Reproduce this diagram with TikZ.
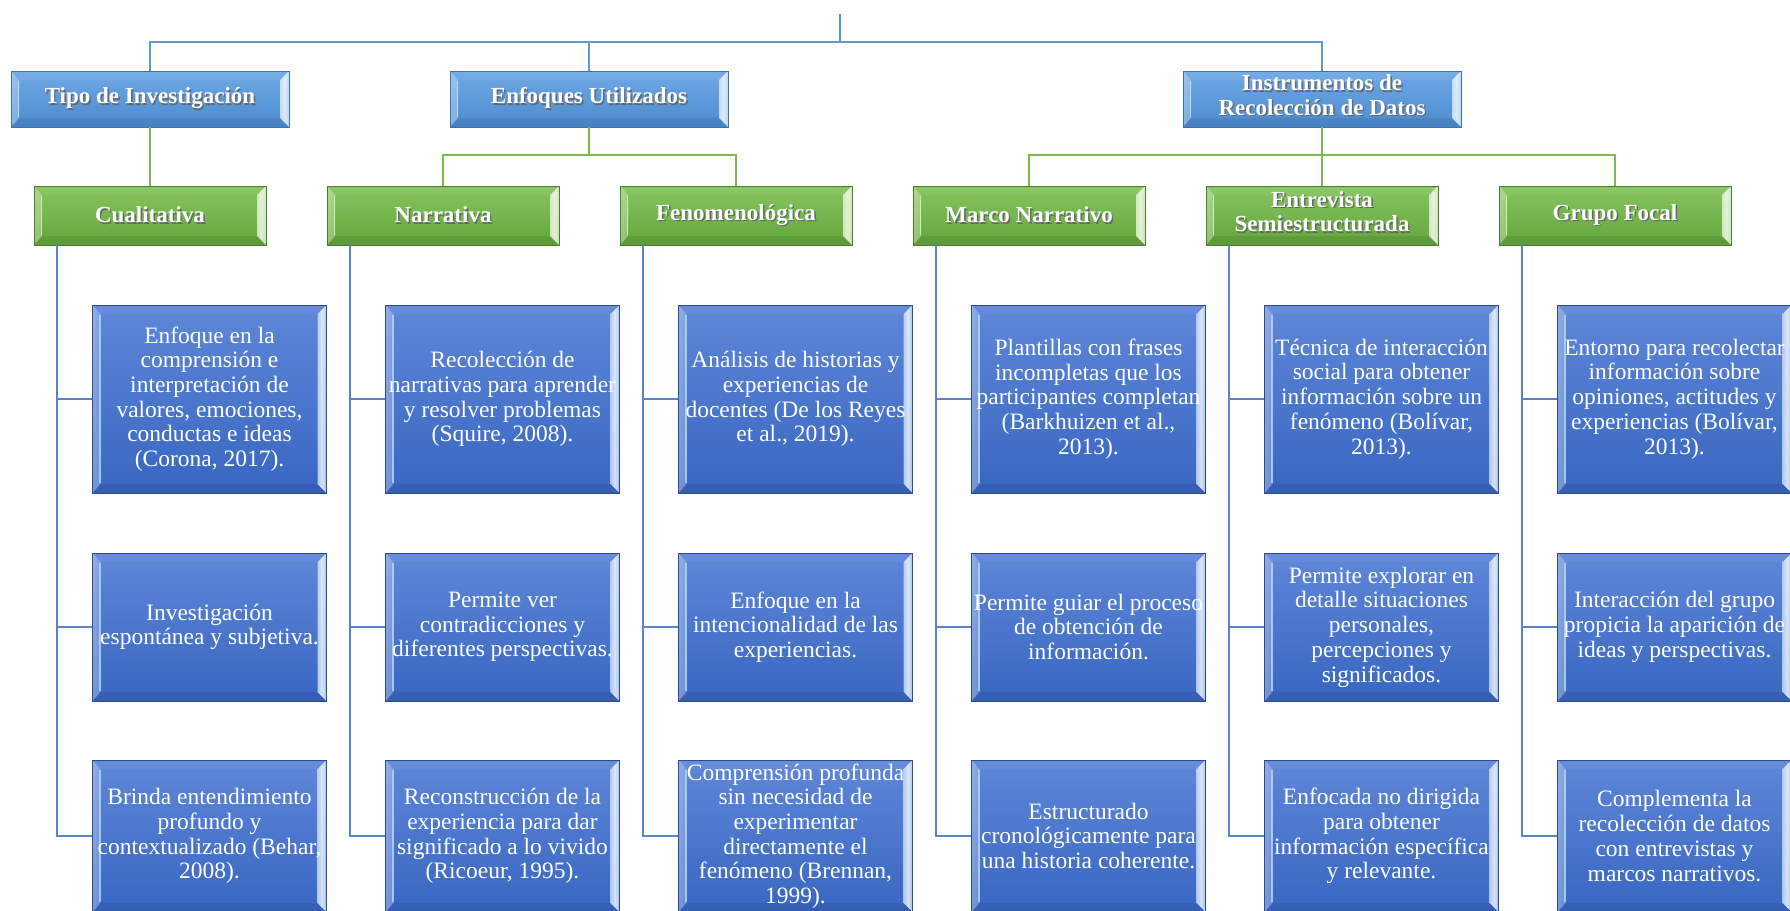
\documentclass[tikz,border=0pt]{standalone}
\usepackage{fontspec}
\setmainfont{Liberation Serif}
\usetikzlibrary{calc}

% palette
\definecolor{hdTop}{HTML}{6FA9E4}
\definecolor{hdBot}{HTML}{4C8BD1}
\definecolor{hdLine}{HTML}{3E73AE}
\definecolor{hdHi}{HTML}{CBE7FB}
\definecolor{gnTop}{HTML}{87C55F}
\definecolor{gnBot}{HTML}{62A63B}
\definecolor{gnLine}{HTML}{4D7E2E}
\definecolor{gnHi}{HTML}{DDF3C8}
\definecolor{dtTop}{HTML}{5F87D9}
\definecolor{dtBot}{HTML}{3866C1}
\definecolor{dtLine}{HTML}{2D4C90}
\definecolor{dtHi}{HTML}{B9D6F6}
\definecolor{busBlue}{HTML}{5B9BD5}
\definecolor{legBlue}{HTML}{5A83CE}
\definecolor{legGreen}{HTML}{7DBB50}

% bevelled faces painted inside a box: #1 highlight colour
\newcommand\bevelfaces[1]{%
  % top rim
  \fill[white, opacity=.05] let \p1=(path picture bounding box.south west),
      \p2=(path picture bounding box.north east) in
      (\x1,\y2) -- (\x2,\y2) -- (\x2-9pt,\y2-9pt) -- (\x1+8pt,\y2-9pt) -- cycle;
  % bottom rim
  \fill[black, opacity=.07] let \p1=(path picture bounding box.south west),
      \p2=(path picture bounding box.north east) in
      (\x1,\y1) -- (\x2,\y1) -- (\x2-9pt,\y1+9pt) -- (\x1+8pt,\y1+9pt) -- cycle;
  % left rim
  \shade[left color=#1!20!white, right color=#1, opacity=.35] let \p1=(path picture bounding box.south west),
      \p2=(path picture bounding box.north east) in
      (\x1,\y1) -- (\x1+8pt,\y1+9pt) -- (\x1+8pt,\y2-9pt) -- (\x1,\y2) -- cycle;
  \draw[#1, line width=1.2pt, opacity=.8] let \p1=(path picture bounding box.south west),
      \p2=(path picture bounding box.north east) in
      (\x1+7.5pt,\y1+10pt) -- (\x1+7.5pt,\y2-10pt);
  % right rim
  \shade[left color=#1!70!white, right color=#1, middle color=white, opacity=.8] let \p1=(path picture bounding box.south west),
      \p2=(path picture bounding box.north east) in
      (\x2,\y1) -- (\x2-9pt,\y1+9pt) -- (\x2-9pt,\y2-9pt) -- (\x2,\y2) -- cycle;
}

% text with a soft drop shadow
\newcommand\shd[1]{\makebox[0pt][l]{\raisebox{-1.4pt}{\hspace{1.4pt}\textcolor{black!60}{#1}}}#1}

\tikzset{
  bevel/.style={path picture={\bevelfaces{#1}}},
  box/.style={rectangle, inner sep=0pt, text=white, align=center},
  head/.style={box, minimum width=278pt, minimum height=56pt,
    top color=hdTop, bottom color=hdBot, draw=hdLine, line width=0.8pt,
    font=\bfseries\fontsize{23}{24.5}\selectfont, bevel=hdHi},
  cat/.style={box, minimum width=232pt, minimum height=59pt,
    top color=gnTop, bottom color=gnBot, draw=gnLine, line width=0.8pt,
    font=\bfseries\fontsize{23}{24.5}\selectfont, bevel=gnHi},
  info/.style={box, minimum width=234pt, minimum height=#1,
    top color=dtTop, bottom color=dtBot, draw=dtLine, line width=0.8pt,
    font=\fontsize{23.5}{24.7}\selectfont, bevel=dtHi},
  bus/.style={busBlue, line width=2.6pt},
  glink/.style={legGreen, line width=2.6pt},
  leg/.style={legBlue, line width=2.2pt},
}

\begin{document}
\begin{tikzpicture}[x=1pt, y=-1pt]
\useasboundingbox (0,0) rectangle (1790,910);

% --- level 1
\node[head] (h1) at (150,99) {\shd{Tipo de Investigación}};
\node[head] (h2) at (589,99) {\shd{Enfoques Utilizados}};
\node[head] (h3) at (1322,99) {\shd{\begin{tabular}{@{}c@{}}Instrumentos de\\Recolección de Datos\end{tabular}}};

% --- level 2
\node[cat] (g1) at (150,215.5) {\shd{Cualitativa}};
\node[cat] (g2) at (443,215.5) {\shd{Narrativa}};
\node[cat] (g3) at (736,215.5) {\shd{Fenomenológica}};
\node[cat] (g4) at (1029,215.5) {\shd{Marco Narrativo}};
\node[cat] (g5) at (1322,215.5) {\shd{\begin{tabular}{@{}c@{}}Entrevista\\Semiestructurada\end{tabular}}};
\node[cat] (g6) at (1615,215.5) {\shd{Grupo Focal}};

% --- level 3
\node[info=188pt] (d11) at (209.5,399) {Enfoque en la\\comprensión e\\interpretación de\\valores, emociones,\\conductas e ideas\\(Corona, 2017).};
\node[info=148pt] (d12) at (209.5,627) {Investigación\\espontánea y subjetiva.};
\node[info=152pt] (d13) at (209.5,836) {Brinda entendimiento\\profundo y\\contextualizado (Behar,\\2008).};

\node[info=188pt] (d21) at (502.5,399) {Recolección de\\narrativas para aprender\\y resolver problemas\\(Squire, 2008).};
\node[info=148pt] (d22) at (502.5,627) {Permite ver\\contradicciones y\\diferentes perspectivas.};
\node[info=152pt] (d23) at (502.5,836) {Reconstrucción de la\\experiencia para dar\\significado a lo vivido\\(Ricoeur, 1995).};

\node[info=188pt] (d31) at (795.5,399) {Análisis de historias y\\experiencias de\\docentes (De los Reyes\\et al., 2019).};
\node[info=148pt] (d32) at (795.5,627) {Enfoque en la\\intencionalidad de las\\experiencias.};
\node[info=152pt] (d33) at (795.5,836) {Comprensión profunda\\sin necesidad de\\experimentar\\directamente el\\fenómeno (Brennan,\\1999).};

\node[info=188pt] (d41) at (1088.5,399) {Plantillas con frases\\incompletas que los\\participantes completan\\(Barkhuizen et al.,\\2013).};
\node[info=148pt] (d42) at (1088.5,627) {Permite guiar el proceso\\de obtención de\\información.};
\node[info=152pt] (d43) at (1088.5,836) {Estructurado\\cronológicamente para\\una historia coherente.};

\node[info=188pt] (d51) at (1381.5,399) {Técnica de interacción\\social para obtener\\información sobre un\\fenómeno (Bolívar,\\2013).};
\node[info=148pt] (d52) at (1381.5,627) {Permite explorar en\\detalle situaciones\\personales,\\percepciones y\\significados.};
\node[info=152pt] (d53) at (1381.5,836) {Enfocada no dirigida\\para obtener\\información específica\\y relevante.};

\node[info=188pt] (d61) at (1674.5,399) {Entorno para recolectar\\información sobre\\opiniones, actitudes y\\experiencias (Bolívar,\\2013).};
\node[info=148pt] (d62) at (1674.5,627) {Interacción del grupo\\propicia la aparición de\\ideas y perspectivas.};
\node[info=152pt] (d63) at (1674.5,836) {Complementa la\\recolección de datos\\con entrevistas y\\marcos narrativos.};

% --- connectors from the root stub
\coordinate (root) at (840,14);
\coordinate (busy) at (840,42);
\draw[bus] (root) -- (busy);
\draw[bus] (busy) -| (h1.north);
\draw[bus] (busy) -| (h2.north);
\draw[bus] (busy) -| (h3.north);

% --- level 1 to level 2
\coordinate (e2) at (589,155);
\coordinate (e3) at (1322,155);
\draw[glink] (h1.south) -- (g1.north);
\draw[glink] (h2.south) -- (e2);
\draw[glink] (e2) -| (g2.north);
\draw[glink] (e2) -| (g3.north);
\draw[glink] (h3.south) -- (g5.north);
\draw[glink] (e3) -| (g4.north);
\draw[glink] (e3) -| (g6.north);

% --- level 2 to level 3
\foreach \c in {1,...,6}{
  \foreach \r in {1,2,3}{
    \draw[leg] ([xshift=23pt]g\c.south west) |- (d\c\r.west);
  }
}
\end{tikzpicture}
\end{document}
